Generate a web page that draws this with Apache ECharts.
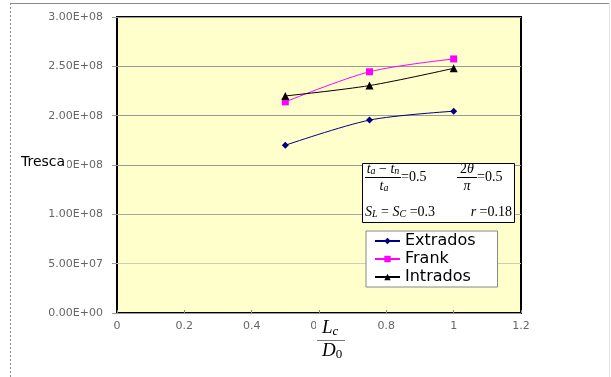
<!DOCTYPE html>
<html>
<head>
<meta charset="utf-8">
<script src="https://cdn.jsdelivr.net/npm/echarts@6/dist/echarts.min.js"></script>
<style>
html, body { margin: 0; padding: 0; background: #fff; }
#chart { width: 611px; height: 377px; }
</style>
</head>
<body>
<div id="chart"></div>
<script>
// Lc/D0 ratio at which each profile was evaluated
const ratioValues = [0.5, 0.75, 1.0];

// Tresca stress for each profile
const extrados = [1.70e8, 1.955e8, 2.045e8];
const frank = [2.14e8, 2.445e8, 2.575e8];
const intrados = [2.20e8, 2.305e8, 2.48e8];

const seriesNames = ['Extrados', 'Frank', 'Intrados'];

// Axis tick labels
const xTickLabels = ['0', '0.2', '0.4', '0.6', '0.8', '1', '1.2'];
const yTickLabels = ['0.00E+00', '5.00E+07', '1.00E+08', '1.50E+08', '2.00E+08', '2.50E+08', '3.00E+08'];

const pairs = vals => ratioValues.map((x, i) => [x, vals[i]]);

const SERIF = '"Liberation Serif", "DejaVu Serif", serif';
const SANS = '"DejaVu Sans", sans-serif';

function txt(x, y, text, opts) {
  opts = opts || {};
  return {
    type: 'text', x: x, y: y, z: 100,
    style: {
      text: text,
      font: opts.font || ('14px ' + SERIF),
      fill: '#000',
      align: opts.align || 'left', textAlign: opts.align || 'left',
      verticalAlign: 'middle', textVerticalAlign: 'middle',
      rich: opts.rich,
      backgroundColor: opts.bg,
      padding: opts.pad
    }
  };
}
function hline(x1, x2, y, color) {
  return { type: 'line', z: 100, shape: { x1: x1, y1: y, x2: x2, y2: y },
           style: { stroke: color || '#000', lineWidth: 1 } };
}

// rich styles for the formula labels
const mathRich = {
  i: { font: 'italic 14px ' + SERIF, verticalAlign: 'middle' },
  n: { font: '14px ' + SERIF, verticalAlign: 'middle' },
  o: { font: '14px ' + SERIF, verticalAlign: 'middle' },
  s: { font: 'italic 10px ' + SERIF, verticalAlign: 'bottom', padding: [5, 0, 0, 0] }
};
const axisRich = {
  i: { font: 'italic 19px ' + SERIF, verticalAlign: 'middle' },
  s: { font: 'italic 13px ' + SERIF, verticalAlign: 'bottom', padding: [7, 0, 0, 0] },
  u: { font: '13px ' + SERIF, verticalAlign: 'bottom', padding: [7, 0, 0, 0] }
};

const chart = echarts.init(document.getElementById('chart'));
chart.setOption({
  animation: false,
  backgroundColor: '#fff',
  grid: {
    left: 117, right: 90, top: 17, bottom: 64,
    show: true, backgroundColor: '#FFFFCC', borderColor: '#000', borderWidth: 2
  },
  xAxis: {
    type: 'value', min: 0, max: 1.2, interval: 0.2,
    axisLine: { show: false },
    axisTick: { show: true, inside: true, length: 3, lineStyle: { color: '#888' } },
    splitLine: { show: false },
    axisLabel: {
      margin: 8, color: '#666', fontFamily: SANS, fontSize: 11,
      formatter: v => xTickLabels[Math.round(v / 0.2)]
    }
  },
  yAxis: {
    type: 'value', min: 0, max: 3e8, interval: 5e7,
    axisLine: { show: false },
    axisTick: { show: true, length: 5, lineStyle: { color: '#999' } },
    splitLine: { show: true, lineStyle: { color: ['#999', '#cfcfb8', '#a8a8a0', '#999', '#999', '#999', '#999'], width: 1 } },
    axisLabel: {
      margin: 14, color: '#666', fontFamily: SANS, fontSize: 11,
      formatter: v => yTickLabels[Math.round(v / 5e7)]
    }
  },
  legend: {
    orient: 'vertical', left: 366, top: 231,
    backgroundColor: '#fff', borderColor: '#888', borderWidth: 1,
    padding: [1, 22, 1, 8], itemGap: 0, itemWidth: 25, itemHeight: 8,
    textStyle: { fontFamily: SANS, fontSize: 16, color: '#000', lineHeight: 18 },
    data: seriesNames
  },
  series: [
    { name: seriesNames[0], type: 'line', data: pairs(extrados), smooth: 0.3,
      symbol: 'diamond', symbolSize: 7, color: '#00007F', lineStyle: { width: 1 } },
    { name: seriesNames[1], type: 'line', data: pairs(frank), smooth: 0.3,
      symbol: 'rect', symbolSize: 7, color: '#FF00FF', lineStyle: { width: 1 } },
    { name: seriesNames[2], type: 'line', data: pairs(intrados), smooth: 0.3,
      symbol: 'triangle', symbolSize: 8, color: '#000', lineStyle: { width: 1 } }
  ],
  graphic: [
    // outer frame
    hline(10, 610, 3.5, '#888'),
    { type: 'line', z: 100, shape: { x1: 10.5, y1: 3, x2: 10.5, y2: 377 },
      style: { stroke: '#888', lineWidth: 1, lineDash: [2, 2] } },
    { type: 'line', z: 100, shape: { x1: 609.5, y1: 3, x2: 609.5, y2: 377 },
      style: { stroke: '#e4e4e4', lineWidth: 1 } },

    // y-axis title
    txt(20, 162, 'Tresca', { font: '14px ' + SANS, bg: '#fff', pad: [1, 2, 1, 1] }),

    // x-axis title: Lc / D0
    { type: 'rect', z: 99, shape: { x: 316, y: 317, width: 34, height: 46 }, style: { fill: '#fff' } },
    txt(322, 328, '{i|L}{s|c}', { rich: axisRich }),
    hline(317, 345, 340.5, '#777'),
    txt(322, 351, '{i|D}{u|0}', { rich: axisRich }),

    // parameter box
    { type: 'rect', z: 99, shape: { x: 362.5, y: 163.5, width: 152, height: 59 },
      style: { fill: '#fff', stroke: '#000', lineWidth: 1 } },
    txt(383, 169, '{i|t}{s|a}{o| − }{i|t}{s|n}', { rich: mathRich, align: 'center' }),
    hline(365, 401, 177.5),
    txt(384, 186, '{i|t}{s|a}', { rich: mathRich, align: 'center' }),
    txt(401, 177, '=0.5'),
    txt(467, 169, '{n|2}{i|θ}', { rich: mathRich, align: 'center' }),
    hline(457, 477, 177.5),
    txt(467, 186, 'π', { font: 'italic 14px ' + SERIF, align: 'center' }),
    txt(477, 177, '=0.5'),
    txt(365, 212, '{i|S}{s|L}{o| = }{i|S}{s|C}{o| =0.3}', { rich: mathRich }),
    txt(512, 212, '{i|r}{o| =0.18}', { rich: mathRich, align: 'right' })
  ]
});
</script>
</body>
</html>
